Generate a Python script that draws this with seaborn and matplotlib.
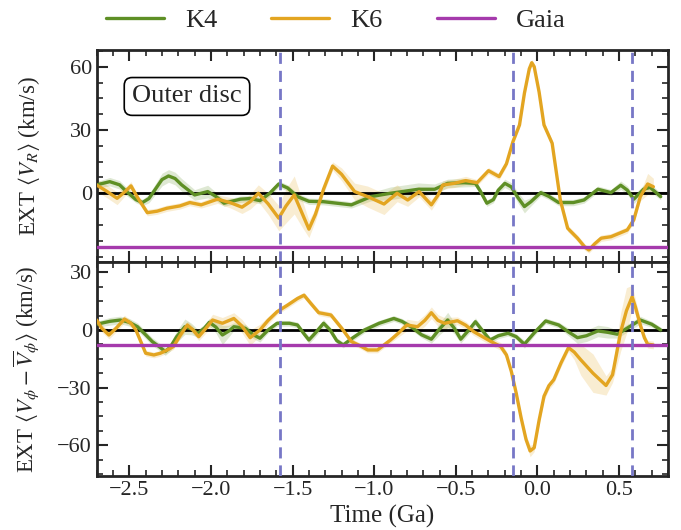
import numpy as np
import pandas as pd
import matplotlib
matplotlib.use("Agg")
import matplotlib.pyplot as plt
import seaborn as sns
from matplotlib.ticker import AutoMinorLocator, MultipleLocator

# ---------------------------- data ----------------------------------
# top panel: EXT <V_R>
k4_r_t = [-2.70, -2.62, -2.56, -2.52, -2.46, -2.42, -2.38, -2.34, -2.30, -2.26,
          -2.22, -2.18, -2.10, -2.02, -1.97, -1.92, -1.82, -1.76, -1.70, -1.64,
          -1.585, -1.53, -1.47, -1.40, -1.31, -1.14, -1.02, -0.90, -0.73, -0.63,
          -0.55, -0.45, -0.38, -0.35, -0.31, -0.27, -0.24, -0.20, -0.16, -0.12,
          -0.08, -0.04, 0.02, 0.07, 0.13, 0.22, 0.285, 0.37, 0.45, 0.51,
          0.55, 0.59, 0.65, 0.69, 0.755]
k4_r_v = [4, 5.5, 4, 1, -3, -4.4, -2.5, 2, 6.5, 8.2,
          7, 4, -0.8, 0.8, -1.5, -4.7, -2.8, -2.5, -3.5, 0,
          4.4, 2.5, -1.6, -3.8, -4, -5.5, -1.6, 0, 1.9, 1.9,
          4.7, 5, 4.7, 1, -4.7, -3, 1.5, 4.7, 3, -2,
          -6.3, -4, 0.3, -1.5, -4.4, -4.4, -3.2, 1.9, 0.3, 3.8,
          1.5, -2.8, 1.9, 2.8, -1.6]
k4_r_err = [1.5, 2, 2, 2, 1.5, 1.5, 2, 2.5, 3, 3,
            3, 3, 2.5, 3, 2, 1.5, 1.5, 1.5, 1.5, 1.5,
            1.5, 1.5, 1.5, 1.5, 1.5, 1.5, 2, 3, 3, 2.5,
            2, 2, 1.5, 1.5, 1.5, 1.5, 1.5, 2, 2, 2.5,
            3, 2, 1.5, 1.5, 1.5, 1.5, 1.5, 1.5, 1.5, 2,
            2, 2, 2, 2, 1.5]

k6_r_t = [-2.70, -2.64, -2.575, -2.53, -2.49, -2.45, -2.39, -2.33, -2.27, -2.19,
          -2.13, -2.06, -1.96, -1.88, -1.81, -1.76, -1.71, -1.65, -1.585, -1.54,
          -1.49, -1.45, -1.40, -1.36, -1.31, -1.255, -1.20, -1.12, -1.04, -0.94,
          -0.86, -0.795, -0.725, -0.65, -0.61, -0.58, -0.51, -0.44, -0.37, -0.30,
          -0.235, -0.19, -0.15, -0.11, -0.08, -0.05, -0.035, -0.02, 0.01, 0.04,
          0.09, 0.14, 0.185, 0.245, 0.29, 0.315, 0.35, 0.39, 0.45, 0.55,
          0.59, 0.63, 0.675, 0.71]
k6_r_v = [3.9, 1, -2.4, 0.5, 3.5, -2, -9.2, -8.5, -7.1, -6,
          -4.4, -5.5, -2.8, -4.5, -6.6, -4, 0, -5, -11.8, -6,
          -0.8, -8, -17, -10, 2, 12.9, 9, 0.8, -1.6, -5.1,
          0, -3.2, 0.8, -5.5, -1, 3.9, 4.7, 6, 5, 10.7,
          7.9, 14, 24.5, 32.4, 47.4, 59, 61.9, 60, 48, 32.4,
          23.7, -3.2, -16.6, -21.3, -25.5, -26.9, -24, -21.3, -20.6, -17.4,
          -12.6, -1.6, 4.4, 3.1]
k6_r_err = [3, 3, 3, 2, 2, 1.5, 1.5, 1.5, 1.5, 1.5,
            1.5, 1.5, 2, 2.5, 3, 3.5, 4, 5, 6, 8,
            9, 7, 4, 3, 2, 2, 3, 4, 5, 5,
            4, 3, 2.5, 2.5, 2, 2, 2, 2, 1.5, 1.5,
            1.5, 1.5, 1.5, 1.5, 1.5, 1.5, 1.5, 1.5, 1.5, 1.5,
            1.5, 1.5, 1.5, 1.5, 1.5, 1.5, 1.5, 1.5, 1.5, 1.5,
            1.5, 2, 5, 4]

gaia_r = -25.3

# bottom panel: EXT <V_phi - mean V_phi>
k4_p_t = [-2.70, -2.62, -2.555, -2.50, -2.45, -2.40, -2.36, -2.32, -2.28, -2.25,
          -2.21, -2.16, -2.12, -2.08, -2.04, -2.01, -1.97, -1.93, -1.89, -1.86,
          -1.79, -1.74, -1.70, -1.65, -1.595, -1.52, -1.47, -1.43, -1.40, -1.36,
          -1.31, -1.27, -1.23, -1.19, -1.13, -1.06, -0.97, -0.88, -0.83, -0.775,
          -0.71, -0.65, -0.60, -0.55, -0.51, -0.47, -0.42, -0.38, -0.34, -0.29,
          -0.24, -0.18, -0.13, -0.08, -0.02, 0.05, 0.13, 0.19, 0.245, 0.30,
          0.37, 0.43, 0.49, 0.56, 0.63, 0.70, 0.755]
k4_p_v = [3, 4.5, 5.2, 4, 1.7, -2.5, -6, -8.5, -11.2, -9,
          -3.5, 1.7, 0.5, -1.7, 1, 4, 1.5, -2.6, -0.5, 1.7,
          0.9, -2.5, -4.3, 0, 3.5, 3.5, 2.6, -2, -5.2, -1.5,
          3.5, 0, -5.5, -7.8, -4, 0, 3.5, 6, 4.5, 1.7,
          -2.5, -4.8, 0.5, 5.2, 1, -4.8, 0, 4.3, 0, -5.2,
          -3, -1.7, -3.5, -7.4, -1.5, 4.7, 2.6, -1, -4, -3,
          -0.5, -1.2, -2.2, 1.5, 5.2, 3, 0]
k4_p_err = [1.5, 2, 2, 2, 2, 2, 2, 2, 2, 2,
            3, 4, 3, 2, 2, 2, 3, 5, 3, 2,
            2, 2, 2, 1.5, 1.5, 1.5, 1.5, 1.5, 2, 2,
            2, 1.5, 1.5, 1.5, 1.5, 1.5, 1.5, 1.5, 1.5, 1.5,
            1.5, 2, 3, 4, 3, 2, 2, 2, 1.5, 1.5,
            1.5, 1.5, 1.5, 2, 1.5, 1.5, 1.5, 2, 3, 3,
            3, 3, 2, 2, 2, 1.5, 1.5]

k6_p_t = [-2.70, -2.67, -2.625, -2.58, -2.53, -2.49, -2.46, -2.43, -2.40, -2.35,
          -2.31, -2.27, -2.23, -2.19, -2.145, -2.11, -2.075, -2.03, -1.99, -1.93,
          -1.86, -1.81, -1.76, -1.70, -1.65, -1.595, -1.53, -1.47, -1.43, -1.39,
          -1.34, -1.265, -1.20, -1.14, -1.08, -1.04, -0.98, -0.90, -0.85, -0.80,
          -0.735, -0.69, -0.65, -0.61, -0.57, -0.49, -0.44, -0.39, -0.285, -0.225,
          -0.19, -0.16, -0.13, -0.10, -0.07, -0.045, -0.02, 0.01, 0.04, 0.07,
          0.10, 0.145, 0.19, 0.225, 0.265, 0.34, 0.42, 0.46, 0.51, 0.545,
          0.58, 0.60, 0.63, 0.655, 0.675, 0.71]
k6_p_v = [5.2, 1, -2.6, 1, 5.7, 3.5, 0, -6, -12.1, -13,
          -12.1, -10.5, -8.6, -3, 2.6, 0, -3.5, 1, 5.2, 3.5,
          6, 2, -4, 0, 5, 9.5, 13, 16.4, 18.1, 14,
          9, 7.8, 1, -6, -8.5, -10.4, -10.4, -5.2, -1.5, 2.6,
          1.7, 5, 9, 5, 3.5, 4.8, 2.5, -0.9, -6, -8.6,
          -13, -21.6, -33, -45.8, -57, -63, -61.3, -47, -34.5, -29,
          -25.9, -17, -9.2, -11.5, -15.5, -22.5, -28.9, -23.3, -0.9, 10,
          17.3, 12, 2.6, -4, -7.4, -7.8]
k6_p_err = [2, 2, 2, 2, 2, 1.5, 1.5, 1.5, 1.5, 1.5,
            1.5, 1.5, 1.5, 1.5, 2, 2, 2, 2.5, 3, 3,
            3, 3.5, 4, 3, 2, 1.5, 1.5, 1.5, 1.5, 1.5,
            1.5, 1.5, 1.5, 1.5, 1.5, 1.5, 1.5, 1.5, 2, 3,
            3, 3, 3, 3, 3, 2, 2, 2, 2, 2,
            2, 2, 2, 2, 2, 3, 2, 2, 2, 2,
            2, 2, 2, 4, 8, 10, 5, 4, 10, 12,
            6, 4, 3, 2, 2, 2]

gaia_p = -7.8

events = [-1.58, -0.15, 0.58]

# ---------------------------- style ----------------------------------
sns.set_style("ticks")
plt.rcParams["font.family"] = ["Liberation Serif", "DejaVu Serif"]
plt.rcParams["mathtext.fontset"] = "stix"

c_k4 = "#5e8f25"
c_k6 = "#e3a521"
c_gaia = "#a53aac"
c_event = "#7777c6"

fig = plt.figure(figsize=(6.81, 5.30), dpi=100)
ax1 = fig.add_axes([0.142, 0.506, 0.839, 0.400])
ax2 = fig.add_axes([0.142, 0.102, 0.839, 0.404], sharex=ax1)


def make_df(t4, v4, e4, t6, v6, e6):
    d4 = pd.DataFrame({"time": t4, "value": v4, "err": e4, "model": "K4"})
    d6 = pd.DataFrame({"time": t6, "value": v6, "err": e6, "model": "K6"})
    return pd.concat([d4, d6], ignore_index=True)


top = make_df(k4_r_t, k4_r_v, k4_r_err, k6_r_t, k6_r_v, k6_r_err)
bot = make_df(k4_p_t, k4_p_v, k4_p_err, k6_p_t, k6_p_v, k6_p_err)
palette = {"K4": c_k4, "K6": c_k6}

for ax, df, gaia in [(ax1, top, gaia_r), (ax2, bot, gaia_p)]:
    for model, g in df.groupby("model"):
        ax.fill_between(g["time"], g["value"] - g["err"], g["value"] + g["err"],
                        color=palette[model], alpha=0.2, lw=0, zorder=1)
    ax.axhline(0, color="black", lw=2, zorder=2)
    sns.lineplot(data=df, x="time", y="value", hue="model", palette=palette,
                 lw=2.4, ax=ax, sort=False, errorbar=None, zorder=3)
    ax.axhline(gaia, color=c_gaia, lw=2.4, zorder=3, label="Gaia")
    for e in events:
        ax.axvline(e, color=c_event, lw=2, ls=(0, (4, 2.5)), zorder=4)
    ax.tick_params(which="both", direction="in", top=True, right=True,
                   labelsize=16)
    ax.tick_params(which="major", length=8, width=1.5)
    ax.tick_params(which="minor", length=4, width=1.2)
    for s in ax.spines.values():
        s.set_linewidth(2)

handles, labels = ax1.get_legend_handles_labels()
ax1.get_legend().remove()
ax2.get_legend().remove()

ax1.set_xlim(-2.7, 0.8)
ax1.set_ylim(-32.5, 68)
ax2.set_ylim(-76, 35.5)
ax1.set_yticks([0, 30, 60])
ax2.yaxis.set_major_locator(MultipleLocator(30))
ax2.xaxis.set_major_locator(MultipleLocator(0.5))
for ax in (ax1, ax2):
    ax.xaxis.set_minor_locator(AutoMinorLocator())
    ax.yaxis.set_minor_locator(AutoMinorLocator())
plt.setp(ax1.get_xticklabels(), visible=False)

ax1.set_xlabel("")
ax1.set_ylabel(r"EXT $\langle V_R\rangle$ (km/s)", fontsize=16.5)
ax2.set_ylabel(r"EXT $\langle V_\phi - \overline{V}_\phi\rangle$ (km/s)",
               fontsize=16.5)
ax2.set_xlabel("Time (Ga)", fontsize=18, labelpad=4)
ax1.yaxis.set_label_coords(-0.095, 0.5)
ax2.yaxis.set_label_coords(-0.095, 0.5)

ax1.text(0.158, 0.78, "Outer disc", transform=ax1.transAxes, fontsize=19,
         ha="center", va="center",
         bbox=dict(boxstyle="round,pad=0.3", fc="white", ec="black", lw=1.2))

fig.legend(handles, labels, loc="center", bbox_to_anchor=(0.493, 0.962),
           ncol=3, frameon=False, fontsize=19, handlelength=2.2,
           handletextpad=0.8, columnspacing=2.05)

fig.savefig("out.png", dpi=100)
